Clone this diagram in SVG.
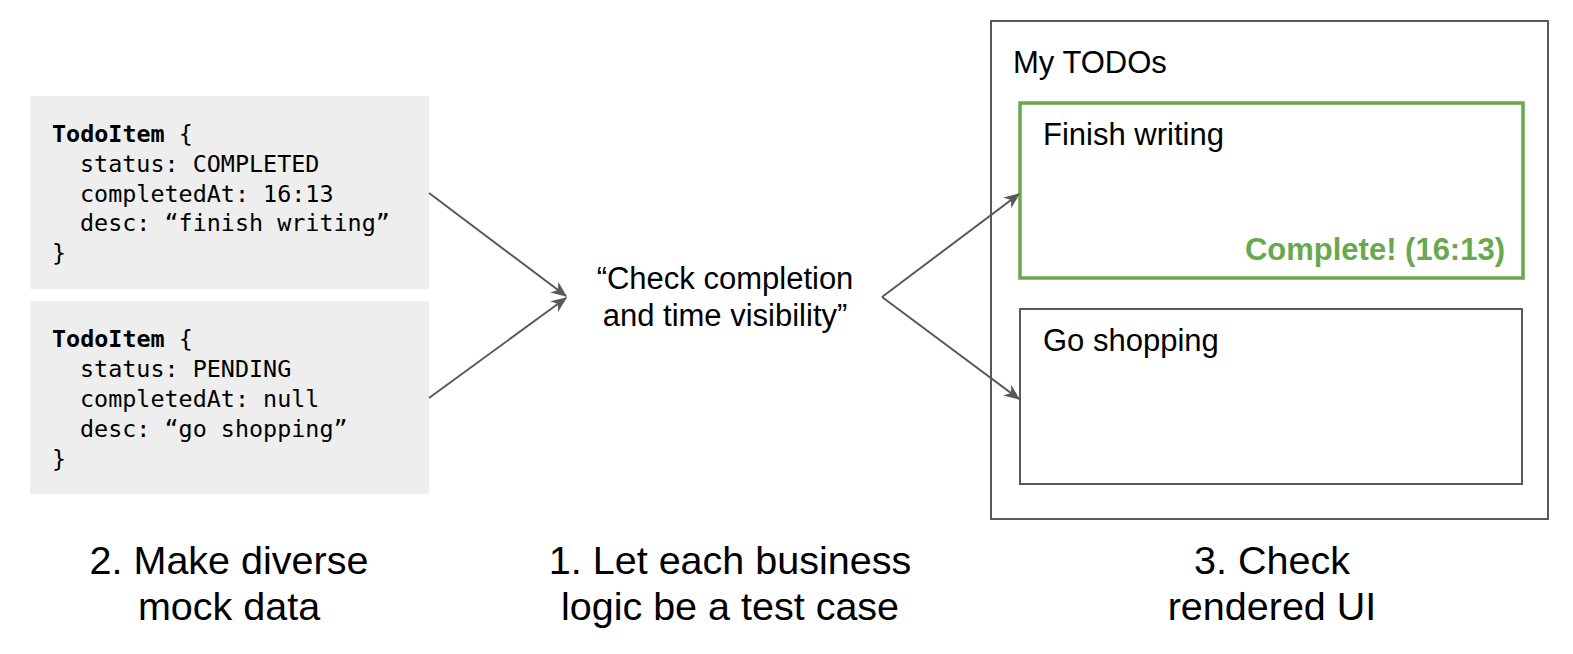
<svg xmlns="http://www.w3.org/2000/svg" width="1573" height="654" viewBox="0 0 1573 654">
<style>
.code{font-family:"DejaVu Sans Mono","Liberation Mono",monospace;font-size:23.4px;fill:#000}
.b{font-weight:bold}
.sans{font-family:"Liberation Sans",Arial,sans-serif;font-size:31px;fill:#000}
.cap{font-family:"Liberation Sans",Arial,sans-serif;font-size:39.5px;fill:#000;text-anchor:middle}
.data{fill:#eeeeee;stroke:none}
.frame{fill:#fff;stroke:#595959;stroke-width:2}
.conn{stroke:#595959;stroke-width:2;fill:none;marker-end:url(#arr)}
</style>
<defs>
<marker id="arr" viewBox="0 0 12 10" refX="11" refY="5" markerWidth="8" markerHeight="7" markerUnits="strokeWidth" orient="auto">
<path d="M0,0 L12,5 L0,10 L3.5,5 z" fill="#595959"/>
</marker>
</defs>
<rect width="1573" height="654" fill="#fff"/>
<g id="data1">
<rect class="data" x="30" y="96" width="399" height="193"/>
<text class="code" x="52" y="142"><tspan class="b">TodoItem</tspan> {</text>
<text class="code" x="80" y="172">status: COMPLETED</text>
<text class="code" x="80" y="201.5">completedAt: 16:13</text>
<text class="code" x="80" y="231">desc: “finish writing”</text>
<text class="code" x="52" y="261">}</text>
</g>
<g id="data2">
<rect class="data" x="30" y="301" width="399" height="193"/>
<text class="code" x="52" y="347"><tspan class="b">TodoItem</tspan> {</text>
<text class="code" x="80" y="377">status: PENDING</text>
<text class="code" x="80" y="407">completedAt: null</text>
<text class="code" x="80" y="437">desc: “go shopping”</text>
<text class="code" x="52" y="467">}</text>
</g>
<g id="testcase">
<text class="sans" x="725" y="289" text-anchor="middle">“Check completion</text>
<text class="sans" x="725" y="326" text-anchor="middle">and time visibility”</text>
</g>
<g id="ui">
<rect class="frame" x="991" y="21" width="557" height="498"/>
<text class="sans" x="1013" y="73">My TODOs</text>
<g id="item1">
<rect x="1020" y="103" width="503" height="175" fill="#fff" stroke="#6aa84f" stroke-width="3.5"/>
<text class="sans" x="1043" y="145">Finish writing</text>
<text class="sans" x="1505" y="260" text-anchor="end" font-weight="bold" style="fill:#6aa84f">Complete! (16:13)</text>
</g>
<g id="item2">
<rect class="frame" x="1020" y="309" width="502" height="175"/>
<text class="sans" x="1043" y="351">Go shopping</text>
</g>
</g>
<g id="connectors">
<line class="conn" x1="429" y1="193" x2="566" y2="296"/>
<line class="conn" x1="429" y1="398" x2="566" y2="298"/>
<path class="conn" d="M882,297 L1019,194"/>
<path class="conn" d="M882,297 L1019,399"/>
</g>
<g id="captions">
<text class="cap" x="229" y="574">2. Make diverse</text>
<text class="cap" x="229" y="620">mock data</text>
<text class="cap" x="730" y="574">1. Let each business</text>
<text class="cap" x="730" y="620">logic be a test case</text>
<text class="cap" x="1272" y="574">3. Check</text>
<text class="cap" x="1272" y="620">rendered UI</text>
</g>
</svg>
